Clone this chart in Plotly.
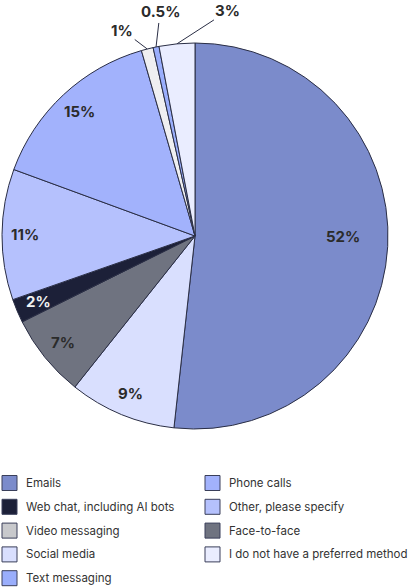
import math
import plotly.graph_objects as go

# Slice order (clockwise from 12 o'clock)
slice_labels = ["Emails", "Social media", "Face-to-face", "Web chat, including AI bots",
                "Other, please specify", "Phone calls", "Video messaging",
                "Text messaging", "I do not have a preferred method"]
slice_values = [52, 9, 7, 2, 11, 15, 1, 0.5, 3]
slice_text = ["52%", "9%", "7%", "2%", "11%", "15%", "1%", "0.5%", "3%"]

legend_order = ["Emails", "Phone calls", "Web chat, including AI bots", "Other, please specify",
                "Video messaging", "Face-to-face", "Social media",
                "I do not have a preferred method", "Text messaging"]

# ---- styling ----
colors = {
    "Emails": "#7b8bcb",
    "Phone calls": "#a2b2fc",
    "Web chat, including AI bots": "#1c2038",
    "Other, please specify": "#b5c1fd",
    "Video messaging": "#c8c9cc",
    "Face-to-face": "#6f7380",
    "Social media": "#d9dffe",
    "I do not have a preferred method": "#eaedff",
    "Text messaging": "#9aaefc",
}
slice_color_override = {"Video messaging": "#efeff1"}
W, H = 413, 587
FONT = "Inter, Roboto, sans-serif"
LINE = "#2a2e45"
# pie placement in pixels
CX, CY, R = 195, 236, 193
label_radius = {"Emails": 0.76}          # fraction of radius; default below
label_nudge = {"Emails": (2, -8)}        # pixel nudge (x, y-down)
DEFAULT_LR = 0.88
outside_offsets = {                      # pixel offset of outside label from slice edge
    "Video messaging": (-25, -19),
    "Text messaging": (4, -35),
    "I do not have a preferred method": (51, -33),
}

fig = go.Figure()
fig.add_trace(go.Pie(
    labels=slice_labels, values=slice_values,
    textinfo="none", sort=False, direction="clockwise", rotation=0,
    marker=dict(colors=[slice_color_override.get(l, colors[l]) for l in slice_labels],
                line=dict(color=LINE, width=1)),
    showlegend=False, hoverinfo="label+percent",
    domain=dict(x=[(CX - R) / W, (CX + R) / W], y=[1 - (CY + R) / H, 1 - (CY - R) / H]),
))

# ---- slice labels, placed at each slice's mid-angle ----
total = sum(slice_values)
cum = 0.0
annotations = []
for lab, val, txt in zip(slice_labels, slice_values, slice_text):
    mid = (cum + val / 2) / total * 2 * math.pi
    cum += val
    s, c = math.sin(mid), math.cos(mid)
    if lab in outside_offsets:
        ex, ey = CX + R * s, CY - R * c
        ax, ay = outside_offsets[lab]
        annotations.append(dict(
            x=ex / W, y=1 - ey / H, xref="paper", yref="paper",
            text=f"<b>{txt}</b>", showarrow=True, arrowhead=0, arrowwidth=1,
            arrowcolor=LINE, ax=ax, ay=ay, standoff=0,
            font=dict(family=FONT, size=15, color="#2b2b2b"),
        ))
    else:
        rr = R * label_radius.get(lab, DEFAULT_LR)
        nx, ny = label_nudge.get(lab, (0, 0))
        px, py = CX + rr * s + nx, CY - rr * c + ny
        tc = "#f2f2f2" if lab == "Web chat, including AI bots" else "#2b2b2b"
        annotations.append(dict(
            x=px / W, y=1 - py / H, xref="paper", yref="paper",
            text=f"<b>{txt}</b>", showarrow=False, xanchor="center", yanchor="middle",
            font=dict(family=FONT, size=15, color=tc),
        ))

# ---- legend (two columns) ----
shapes = []
for i, name in enumerate(legend_order):
    row, col = divmod(i, 2)
    sx = 2 if col == 0 else 205
    yc = 483 + row * 23.8
    shapes.append(dict(
        type="rect", xref="paper", yref="paper",
        x0=sx / W, x1=(sx + 15) / W, y0=1 - (yc + 7.5) / H, y1=1 - (yc - 7.5) / H,
        fillcolor=colors[name], line=dict(color="#3a3f5a", width=1),
    ))
    annotations.append(dict(
        x=(sx + 22) / W, y=1 - yc / H, xref="paper", yref="paper",
        text=name, showarrow=False, xanchor="left", yanchor="middle",
        font=dict(family=FONT, size=11.5, color="#333333"),
    ))

fig.update_layout(
    width=W, height=H, margin=dict(l=0, r=0, t=0, b=0),
    paper_bgcolor="white", plot_bgcolor="white",
    font=dict(family=FONT, size=11, color="#333333"),
    annotations=annotations, shapes=shapes,
)
fig.write_html("out.html", config={"displayModeBar": False},
               post_script="document.body.style.margin='0';document.body.style.overflow='hidden';")
